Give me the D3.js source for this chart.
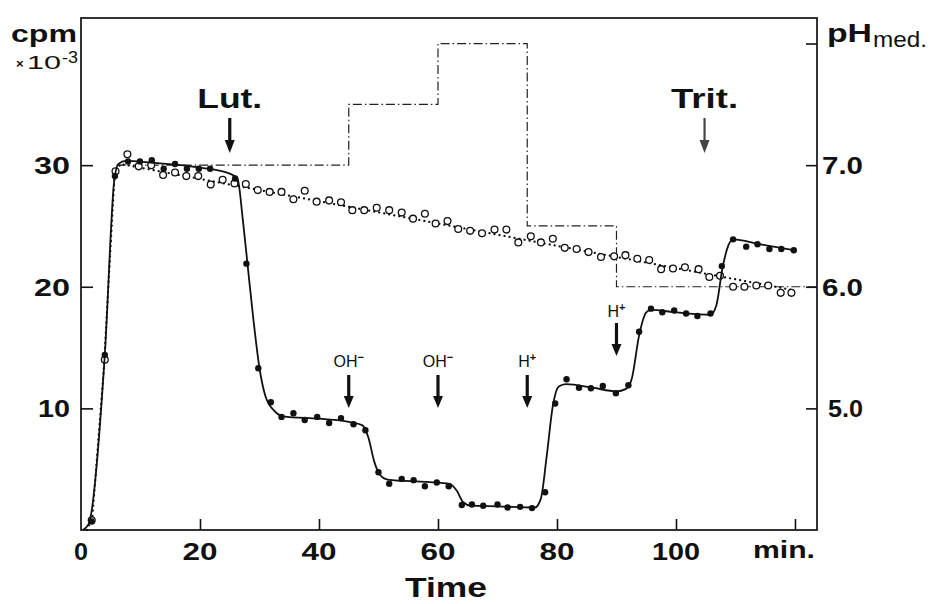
<!DOCTYPE html>
<html><head><meta charset="utf-8">
<script src="https://cdn.jsdelivr.net/npm/d3@7"></script>
<style>body{margin:0;background:#fff} svg{display:block}</style>
</head><body><svg id="c" width="932" height="604"></svg>
<script>
// ---- data (time in min, counts in cpm x 10^-3, pH of medium) ----
const filledTime = [1.8,4.0,5.7,7.9,9.9,11.9,13.9,15.8,17.8,19.8,21.7,25.9,27.8,29.8,31.9,33.7,35.7,37.6,39.7,41.7,43.7,45.8,47.8,50.0,51.8,53.9,55.9,57.8,59.8,61.8,64.0,65.7,67.6,70.0,71.7,73.8,75.8,78.0,79.7,81.6,83.7,85.7,87.7,89.9,92.0,93.8,95.8,97.7,99.7,101.7,103.6,105.8,107.7,109.6,111.8,113.7,115.7,117.7,119.8];
const filledCpm  = [0.7,14.4,29.1,30.3,30.3,30.4,29.7,30.1,29.7,29.7,29.7,28.9,21.9,13.3,10.5,9.3,9.6,9.05,9.3,8.8,9.2,8.7,8.2,4.75,3.8,4.2,4.1,3.6,3.9,3.6,2.05,2.1,2.0,2.1,1.85,1.9,1.8,3.1,10.4,12.4,11.7,11.65,11.85,11.25,11.9,16.3,18.2,17.9,18.05,17.8,17.6,17.8,21.7,23.9,23.3,23.5,23.1,23.1,23.0];

const openTime = [1.8,4.0,5.8,7.8,9.7,11.8,13.8,15.8,17.7,19.7,21.8,23.8,25.8,27.7,29.7,31.7,33.7,35.7,37.6,39.6,41.7,43.7,45.6,47.6,49.7,51.8,53.9,55.8,57.8,59.6,61.6,63.4,65.4,67.4,69.5,71.5,73.5,75.6,77.3,79.3,81.3,83.3,85.3,87.4,89.6,91.5,93.5,95.5,97.5,99.5,101.5,103.8,105.6,107.4,109.6,111.5,113.5,115.5,117.6,119.4];
const openCpm  = [0.8,14.0,29.5,30.9,29.9,30.0,29.2,29.4,29.1,29.1,28.4,28.8,28.5,28.45,27.95,27.8,27.8,27.2,27.9,27.0,27.1,26.95,26.3,26.3,26.5,26.3,26.1,25.6,26.0,25.2,25.4,24.75,24.6,24.4,24.7,24.7,23.65,24.15,23.65,23.95,23.2,23.1,22.85,22.45,22.5,22.6,22.3,22.2,21.45,21.5,21.6,21.45,20.8,20.9,20.0,20.0,20.1,20.1,19.5,19.5];

// hand-drawn fitted curve through filled points
const fitTime = [0.3,1.3,4.0,5.6,6.3,7.5,12,20,25,26.3,27.2,28,29,30,31,32.5,34,40,45,47.3,48.3,49.3,50.3,51.5,58,62,63.2,64.2,65.5,70,76.3,77.3,78.3,79.3,80.3,81.5,86,90,91.6,92.6,93.8,95,95.8,100,105.8,106.8,107.8,108.8,109.6,114,120];
const fitCpm  = [0,0.5,14.4,28.8,30.1,30.35,30.2,29.8,29.3,28.9,25.5,21.8,17.2,13.3,11.0,9.8,9.35,9.15,8.9,8.6,7.6,5.6,4.5,4.15,3.95,3.8,3.2,2.3,2.0,1.95,1.85,2.6,6.2,10.2,11.8,12.0,11.7,11.4,11.6,12.5,16.0,17.9,18.1,17.9,17.7,18.5,21.5,23.4,23.9,23.5,23.0];

// dotted line through open circles
const dotTime = [1.0,1.9,3.8,5.6,6.6,120];
const dotCpm  = [0,1.0,13.0,28.8,30.1,19.7];

// pH of medium (step profile)
const phTime  = [6,45,60,75,90,123.7];
const phValue = [7.0,7.5,8.0,6.5,6.0,6.0];

const xTicks = [20,40,60,80,100,120];
const xTickLabels = ["0","20","40","60","80","100"];
const xLabelValues = [0,20,40,60,80,100];
const yTicks = [10,20,30];
const yTickLabels = ["10","20","30"];
const phTicks = [5,6,7,8];
const phLabelValues = [5,6,7];
const phTickLabels = ["5.0","6.0","7.0"];

const events = [
  {t:25,  label:"Lut.",  sup:"", kind:"big"},
  {t:45,  label:"OH",    sup:"−", kind:"small"},
  {t:60,  label:"OH",    sup:"−", kind:"small"},
  {t:75,  label:"H",     sup:"+", kind:"small"},
  {t:90,  label:"H",     sup:"+", kind:"mid"},
  {t:104.8, label:"Trit.", sup:"", kind:"big"}
];

// ---- layout ----
const svg = d3.select("#c");
const x = d3.scaleLinear().domain([0,123.7]).range([81,817]);
const y = d3.scaleLinear().domain([0,42.1]).range([530,18]);
const yph = d3.scaleLinear().domain([4,8.21]).range([530,18]);
const FONT = "'Liberation Sans', Arial, Helvetica, sans-serif";

function txt(px, py, s, o) {
  const t = svg.append("text").attr("x",px).attr("y",py)
    .attr("font-family",FONT).attr("font-size",o.size)
    .attr("font-weight",o.weight||"bold").attr("text-anchor",o.anchor||"start")
    .attr("fill","#111").text(s);
  if (o.width) t.attr("textLength",o.width).attr("lengthAdjust","spacingAndGlyphs");
  return t;
}

// frame
svg.append("rect").attr("x",x(0)).attr("y",y(42.1))
  .attr("width",x(123.7)-x(0)).attr("height",y(0)-y(42.1))
  .attr("fill","none").attr("stroke","#111").attr("stroke-width",1.7);

// axes (ticks inward)
const gx = svg.append("g").attr("transform",`translate(0,${y(0)})`)
  .call(d3.axisBottom(x).tickValues(xTicks).tickSizeInner(-11).tickSizeOuter(0).tickFormat(""));
const gy = svg.append("g").attr("transform",`translate(${x(0)},0)`)
  .call(d3.axisLeft(y).tickValues(yTicks).tickSizeInner(-12).tickSizeOuter(0).tickFormat(""));
const gr = svg.append("g").attr("transform",`translate(${x(123.7)},0)`)
  .call(d3.axisRight(yph).tickValues(phTicks).tickSizeInner(-11).tickSizeOuter(0).tickFormat(""));
[gx,gy,gr].forEach(g=>{ g.select(".domain").remove(); g.selectAll("line").attr("stroke","#111").attr("stroke-width",1.6); });

// tick labels
xLabelValues.forEach((v,i)=>{
  const s = xTickLabels[i];
  txt(x(v), 560, s, {size:24, anchor:"middle", width: s.length===1?14:(s.length===2?35:48)});
});
txt(753, 558, "min.", {size:24, width:62});
yTicks.forEach((v,i)=>{
  txt(70, y(v)+9, yTickLabels[i], {size:24, anchor:"end", width: v===10?32:36});
});
phLabelValues.forEach((v,i)=>{
  txt(v===5?828:822, yph(v)+9, phTickLabels[i], {size:24, width: v===5?35:41});
});

// axis titles
txt(11, 42, "cpm", {size:23, width:66});
txt(16, 68, "×", {size:13});
txt(27, 69, "10", {size:18, weight:"normal", width:34});
txt(62, 63, "-3", {size:17, weight:"normal", width:16});
txt(827, 42, "pH", {size:26, width:45});
txt(873, 47, "med.", {size:22, weight:"normal", width:54});
txt(446, 597, "Time", {size:28, anchor:"middle", width:82});

// pH step line (dash-dot)
svg.append("path")
  .datum(phTime.map((t,i)=>[t,phValue[i]]))
  .attr("d", d3.line().x(d=>x(d[0])).y(d=>yph(d[1])).curve(d3.curveStepAfter))
  .attr("fill","none").attr("stroke","#222").attr("stroke-width",1.2)
  .attr("stroke-dasharray","9,3,1.5,3");

// dotted line
svg.append("path")
  .datum(dotTime.map((t,i)=>[t,dotCpm[i]]))
  .attr("d", d3.line().x(d=>x(d[0])).y(d=>y(d[1])))
  .attr("fill","none").attr("stroke","#111").attr("stroke-width",2.2)
  .attr("stroke-linecap","round").attr("stroke-dasharray","0.1,5");

// open circles
svg.append("g").selectAll("circle").data(openTime.map((t,i)=>[t,openCpm[i]])).join("circle")
  .attr("cx",d=>x(d[0])).attr("cy",d=>y(d[1])).attr("r",3.4)
  .attr("fill","#fff").attr("stroke","#111").attr("stroke-width",1.3);

// fitted solid line
svg.append("path")
  .datum(fitTime.map((t,i)=>[t,fitCpm[i]]))
  .attr("d", d3.line().x(d=>x(d[0])).y(d=>y(d[1])).curve(d3.curveMonotoneX))
  .attr("fill","none").attr("stroke","#111").attr("stroke-width",1.8);

// filled circles
svg.append("g").selectAll("circle").data(filledTime.map((t,i)=>[t,filledCpm[i]])).join("circle")
  .attr("cx",d=>x(d[0])).attr("cy",d=>y(d[1])).attr("r",3.2).attr("fill","#111");

// event arrows and labels
const geo = {
  big:   {lab:108, y0:118, y1:153, size:27, w:3.2, hw:5, hh:13},
  small: {lab:367, y0:375, y1:408, size:16, w:3.2, hw:5, hh:12},
  mid:   {lab:317, y0:323, y1:356, size:16, w:3.2, hw:5, hh:12}
};
events.forEach(e=>{
  const g = geo[e.kind];
  const cx = x(e.t);
  const col = e.label==="Trit." ? "#444" : "#111";
  const sw = e.label==="Trit." ? 2.2 : g.w;
  svg.append("line").attr("x1",cx).attr("x2",cx).attr("y1",g.y0).attr("y2",g.y1-g.hh+2)
    .attr("stroke",col).attr("stroke-width",sw);
  svg.append("path").attr("d",`M${cx-g.hw},${g.y1-g.hh} L${cx+g.hw},${g.y1-g.hh} L${cx},${g.y1} Z`).attr("fill",col);
  if (e.kind==="big") {
    txt(cx, g.lab, e.label, {size:g.size, anchor:"middle", width: e.label==="Lut."?65:67});
  } else {
    const t = svg.append("text").attr("x",cx).attr("y",g.lab).attr("text-anchor","middle")
      .attr("font-family",FONT).attr("fill","#111");
    t.append("tspan").attr("font-size",g.size).text(e.label);
    t.append("tspan").attr("font-size",11).attr("dy",-6).attr("font-weight","bold").text(e.sup);
  }
});
</script>
</body></html>
